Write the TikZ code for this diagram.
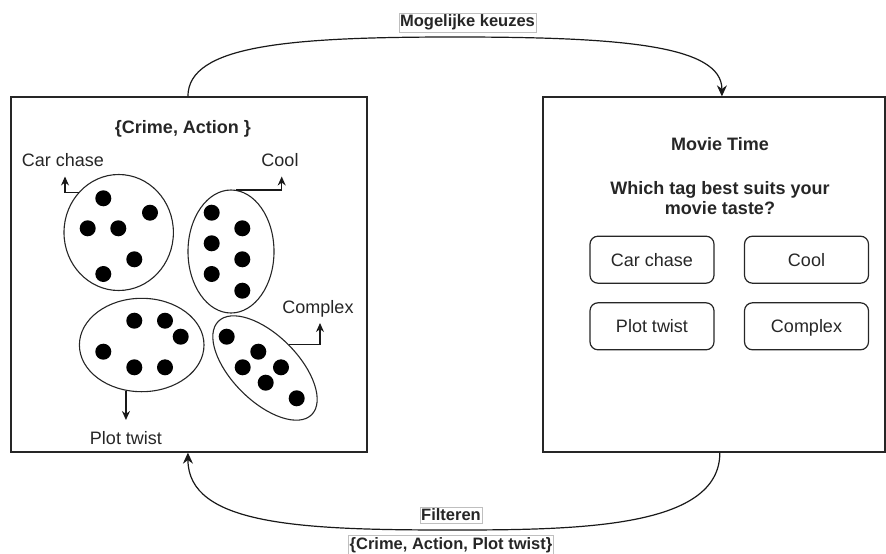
\documentclass[tikz,border=0pt]{standalone}
\usepackage{fontspec}
\setmainfont{Liberation Sans}
\usetikzlibrary{arrows.meta,calc,shapes.geometric}
\begin{document}
\begin{tikzpicture}[x=1pt,y=-1pt,
  txt/.style={font=\fontsize{18}{21}\selectfont, text=black!85, inner sep=0pt, text height=12.8pt, text depth=0pt},
  btxt/.style={font=\fontsize{18}{21}\selectfont\bfseries, text=black!85, inner sep=0pt, align=center},
  elab/.style={font=\fontsize{16.5}{19}\selectfont\bfseries, text=black!85, fill=white, draw=black!25, line width=0.5pt, inner xsep=1pt, inner ysep=2pt},
  panel/.style={draw=black!85, line width=1.3pt, minimum width=356pt, minimum height=355pt, inner sep=0pt},
  btn/.style={draw=black!85, line width=1.2pt, rounded corners=8pt, minimum width=124pt, minimum height=47pt, inner sep=0pt, font=\fontsize{18}{21}\selectfont, text=black!85, text height=12.8pt, text depth=0pt},
  grp/.style={draw=black!85, line width=1.1pt, ellipse, inner sep=0pt},
  dot/.style={circle, fill=black, inner sep=0pt, minimum size=16pt},
  bigarr/.style={draw=black!90, line width=1.2pt, -{Stealth[length=11pt,width=10pt]}},
  smarr/.style={draw=black!90, line width=1.2pt, -{Stealth[length=9pt,width=8pt]}}
]
\useasboundingbox (0,0) rectangle (886,554);

% panels
\node[panel] (lbox) at (189,274.5) {};
\node[panel, minimum width=342pt] (rbox) at (714,274.5) {};

% left panel contents
\node[btxt] (ltitle) at (183,129) {\{Crime, Action \}};
\node[txt] (lcc) at (63,160) {Car chase};
\node[txt] (lcool) at (280,160) {Cool};
\node[txt] (lcpx) at (318,307) {Complex};
\node[txt] (lpt) at (126,438) {Plot twist};

\node[grp, minimum width=109.4pt, minimum height=116pt] (e1) at (118.7,232.5) {};
\node[grp, minimum width=86pt, minimum height=123pt] (e2) at (231,251.5) {};
\node[grp, minimum width=124.6pt, minimum height=93.4pt] (e3) at (141.7,345) {};
\node[grp, minimum width=132pt, minimum height=66pt, rotate=-45] (e4) at (265,368) {};

% dots
\foreach \i/\p in {1/{(103.3,198.3)},2/{(150,212.7)},3/{(87.7,228.3)},4/{(118.3,228.3)},5/{(134.3,259.3)},6/{(103.3,274)}}
  \node[dot] (da\i) at \p {};
\foreach \i/\p in {1/{(211.7,212.7)},2/{(242.3,228.3)},3/{(211.7,243.3)},4/{(242.3,259.3)},5/{(211.7,274)},6/{(242.3,290.7)}}
  \node[dot] (db\i) at \p {};
\foreach \i/\p in {1/{(134.3,320.7)},2/{(165,320.7)},3/{(180.7,336.7)},4/{(103.3,351.7)},5/{(134.3,367.3)},6/{(165,367.3)}}
  \node[dot] (dc\i) at \p {};
\foreach \i/\p in {1/{(226.7,336.7)},2/{(258.3,351.7)},3/{(242.7,367.3)},4/{(281,367.3)},5/{(265.7,382.7)},6/{(296.7,398.3)}}
  \node[dot] (dd\i) at \p {};

% group arrows
\coordinate (cctip) at (65,176.5);
\coordinate (cooltip) at (281.7,176.5);
\coordinate (cpxtip) at (320,323);
\coordinate (pttip) at (126,420);
\draw[smarr] (e1.135) -| (cctip);
\draw[smarr] (e2.85) -| (cooltip);
\draw[smarr] (e4.north) -| (cpxtip);
\draw[smarr] (e3.251) -- (e3.251 |- pttip);

% right panel contents
\node[btxt] (rtitle) at (720,144.3) {Movie Time};
\node[btxt] (rq) at (720,198.5) {Which tag best suits your\\[-1pt]movie taste?};
\node[btn] (b1) at (652,259.7) {Car chase};
\node[btn] (b2) at (806.5,259.7) {Cool};
\node[btn] (b3) at (652,326.3) {Plot twist};
\node[btn] (b4) at (806.5,326.3) {Complex};

% top connector
\coordinate (ts) at ($(lbox.north west)!0.497!(lbox.north east)$);
\coordinate (te) at ($(rbox.north west)!0.523!(rbox.north east)$);
\draw[bigarr] (ts) .. controls (188,45) and (290,37) .. (455,37) .. controls (620,37) and (722,45) .. (te);
\node[elab] (lab1) at (467.5,22.5) {Mogelijke keuzes};

% bottom connector
\coordinate (bs) at ($(rbox.south west)!0.517!(rbox.south east)$);
\coordinate (be) at ($(lbox.south west)!0.497!(lbox.south east)$);
\draw[bigarr] (bs) .. controls (720,528) and (580,530) .. (451,530) .. controls (300,530) and (188,525) .. (be);
\node[elab] (lab2) at (451,515) {Filteren};
\node[elab] (lab3) at (451,545) {\{Crime, Action, Plot twist\}};
\end{tikzpicture}
\end{document}
